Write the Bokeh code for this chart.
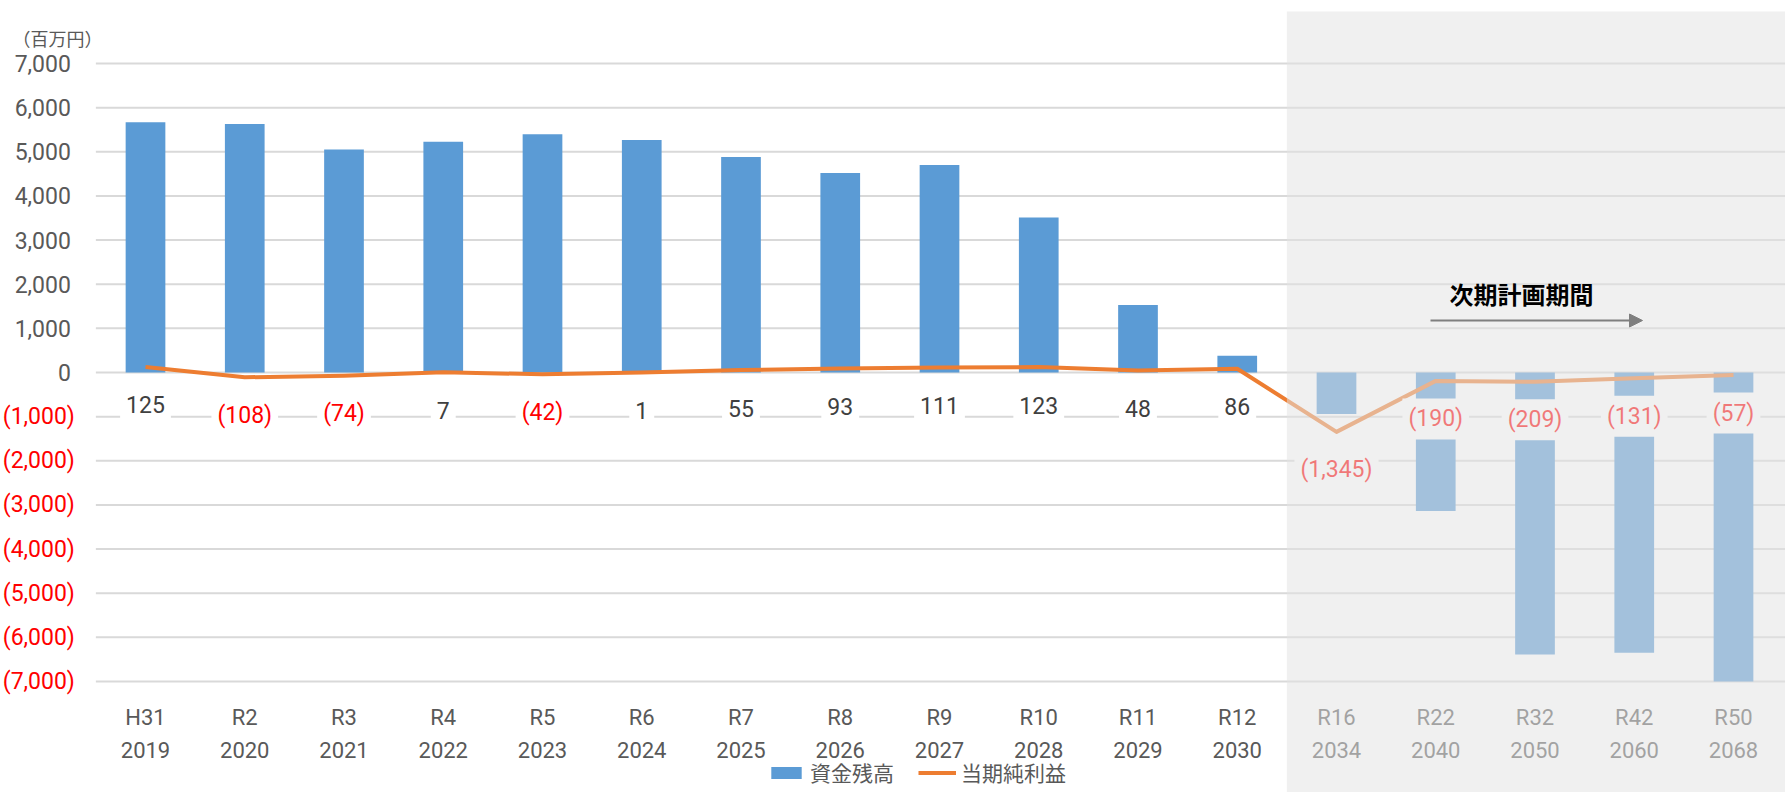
from bokeh.plotting import figure
from bokeh.models import Range1d, Legend, LegendItem, Arrow, NormalHead, ColumnDataSource
from bokeh.core.properties import value
from bokeh.embed import file_html
from bokeh.resources import INLINE

# ---------------- data ----------------
periods = ["H31", "R2", "R3", "R4", "R5", "R6", "R7", "R8", "R9", "R10", "R11", "R12",
           "R16", "R22", "R32", "R42", "R50"]
years = ["2019", "2020", "2021", "2022", "2023", "2024", "2025", "2026", "2027", "2028",
         "2029", "2030", "2034", "2040", "2050", "2060", "2068"]
cash_balance = [5670, 5630, 5050, 5230, 5400, 5270, 4880, 4520, 4700, 3510, 1530, 380,
                -940, -3140, -6390, -6350, -7000]
net_income = [125, -108, -74, 7, -42, 1, 55, 93, 111, 123, 48, 86,
              -1345, -190, -209, -131, -57]
plan_start = 12            # index of first category in 次期計画期間
y_ticks = list(range(-7000, 7001, 1000))
unit_label = "（百万円）"
plan_label = "次期計画期間"
series_names = ["資金残高", "当期純利益"]

# ---------------- layout ----------------
W, H = 1785, 792
X0, XS = 145.0, 99.25        # pixel of first category centre, pixels per category
ZERO_PX, YS = 372.0, 44.14   # pixel of y=0, pixels per 1000

def dx(px):
    return (px - X0) / XS

def dy(py):
    return (ZERO_PX - py) / YS * 1000.0

NUM_FONT = "Roboto"
CJK_FONT = "Noto Sans CJK JP"
BLUE = "#5B9BD5"
ORANGE = "#ED7D31"
TICK_GREY = "#595959"
GRID = "#D9D9D9"

def fmt(v):
    s = f"{abs(v):,}"
    return f"({s})" if v < 0 else s

p = figure(width=W, height=H, output_backend="svg", toolbar_location=None,
           x_range=Range1d(dx(0), dx(W)), y_range=Range1d(dy(H), dy(0)),
           min_border=0, x_axis_location=None, y_axis_location=None)
p.grid.visible = False
p.outline_line_color = None
p.background_fill_color = "white"
p.border_fill_color = "white"

idx = list(range(len(periods)))
x_left = -0.5
x_right = dx(W)

# gridlines
p.segment(x0=[x_left] * len(y_ticks), x1=[x_right] * len(y_ticks), y0=y_ticks, y1=y_ticks,
          line_color=GRID, line_width=2)

# bars and line
bars = p.vbar(x=idx, top=cash_balance, bottom=0, width=0.40, fill_color=BLUE, line_color=None)
line = p.line(x=idx, y=net_income, line_color=ORANGE, line_width=4, line_join="round")

# data labels (white boxes hide gridline)
lab_src = ColumnDataSource(dict(
    x=idx, y=net_income, text=[fmt(v) for v in net_income],
    color=["#FF0000" if v < 0 else "#404040" for v in net_income]))
p.text(x="x", y="y", text="text", source=lab_src, text_color="color",
       text_font=value(NUM_FONT), text_font_size=value("23px"),
       text_align="center", text_baseline="middle", y_offset=38,
       background_fill_color="white", padding=(6, 7))

# category labels
p.text(x=idx, y=[y_ticks[0]] * len(idx), text=periods, text_color=TICK_GREY,
       text_font=value(NUM_FONT), text_font_size=value("22px"),
       text_align="center", text_baseline="middle", y_offset=36)
p.text(x=idx, y=[y_ticks[0]] * len(idx), text=years, text_color=TICK_GREY,
       text_font=value(NUM_FONT), text_font_size=value("22px"),
       text_align="center", text_baseline="middle", y_offset=69)

# y tick labels
tick_src = ColumnDataSource(dict(
    x=[x_left] * len(y_ticks), y=y_ticks, text=[fmt(v) for v in y_ticks],
    color=["#FF0000" if v < 0 else TICK_GREY for v in y_ticks],
    off=[-21 if v < 0 else -25 for v in y_ticks]))
p.text(x="x", y="y", text="text", source=tick_src, text_color="color", x_offset="off",
       text_font=value(NUM_FONT), text_font_size=value("23px"),
       text_align="right", text_baseline="middle")

# unit label
p.text(x=[dx(12)], y=[dy(37)], text=[unit_label], text_color=TICK_GREY,
       text_font=value(CJK_FONT), text_font_size=value("18px"),
       text_align="left", text_baseline="middle")

# shaded plan period overlay
p.quad(left=[plan_start - 0.5], right=[x_right], top=[dy(11)], bottom=[dy(H)],
       fill_color="#E2E2E2", fill_alpha=0.53, line_color=None)

# plan period title and arrow
p.text(x=[dx(1521)], y=[dy(293)], text=[plan_label], text_color="black",
       text_font=value(CJK_FONT), text_font_size=value("24px"), text_font_style="bold",
       text_align="center", text_baseline="middle")
p.add_layout(Arrow(end=NormalHead(size=13, fill_color="#7F7F7F", line_color="#7F7F7F"),
                   x_start=dx(1430), y_start=dy(320), x_end=dx(1642), y_end=dy(320),
                   line_color="#7F7F7F", line_width=2))

legend = Legend(items=[LegendItem(label=series_names[0], renderers=[bars]),
                       LegendItem(label=series_names[1], renderers=[line])],
                location=(767, 5), orientation="horizontal",
                label_text_font=CJK_FONT, label_text_font_size="21px",
                label_text_color=TICK_GREY, glyph_width=38, glyph_height=15,
                spacing=24, label_standoff=5, padding=0, margin=0,
                border_line_color=None, background_fill_alpha=0)
p.add_layout(legend)

open("out.html", "w").write(file_html(p, INLINE))
